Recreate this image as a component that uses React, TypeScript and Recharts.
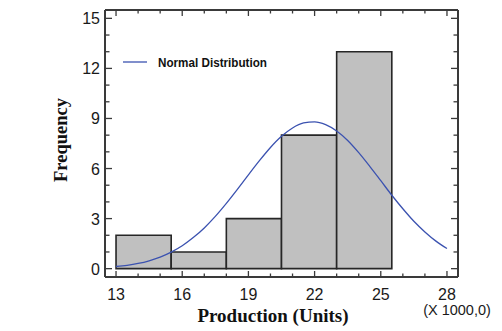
import React from "react";
import {
  ComposedChart,
  Line,
  XAxis,
  YAxis,
  ReferenceArea,
} from "recharts";

// Histogram bins (in thousands of units)
const binStarts = [13, 15.5, 18, 20.5, 23];
const binEnds = [15.5, 18, 20.5, 23, 25.5];
const binCounts = [2, 1, 3, 8, 13];

// Fitted normal curve
const curveX = [
  13, 13.5, 14, 14.5, 15, 15.5, 16, 16.5, 17, 17.5, 18, 18.5, 19, 19.5, 20,
  20.5, 21, 21.5, 22, 22.5, 23, 23.5, 24, 24.5, 25, 25.5, 26, 26.5, 27, 27.5,
  28,
];
const curveY = [
  0.13, 0.2, 0.31, 0.47, 0.69, 0.99, 1.37, 1.86, 2.44, 3.13, 3.91, 4.75, 5.62,
  6.47, 7.26, 7.93, 8.43, 8.73, 8.8, 8.63, 8.25, 7.68, 6.95, 6.13, 5.27, 4.4,
  3.59, 2.84, 2.2, 1.65, 1.21,
];

const xTicks = [13, 14, 15, 16, 17, 18, 19, 20, 21, 22, 23, 24, 25, 26, 27, 28];
const xLabels = [13, 16, 19, 22, 25, 28];
const yTicks = [0, 1, 2, 3, 4, 5, 6, 7, 8, 9, 10, 11, 12, 13, 14, 15];
const yLabels = [0, 3, 6, 9, 12, 15];

const data = curveX.map((x, i) => ({ x, y: curveY[i] }));

const FRAME = "#3a3a3a";
const TICK_FONT = "'Liberation Sans', Arial, sans-serif";
const SERIF = "'Liberation Serif', 'Times New Roman', serif";

const BottomTick = (props: any) => {
  const { x, y, payload } = props;
  const major = xLabels.includes(payload.value);
  return (
    <g>
      <line x1={x} x2={x} y1={y} y2={y - (major ? 6 : 3.5)} stroke={FRAME} strokeWidth={1.3} />
      {major && (
        <text x={x} y={y + 23} textAnchor="middle" fontSize={16} fontFamily={TICK_FONT} fill="#1a1a1a">
          {payload.value}
        </text>
      )}
    </g>
  );
};

const TopTick = (props: any) => {
  const { x, y, payload } = props;
  const major = xLabels.includes(payload.value);
  return <line x1={x} x2={x} y1={y} y2={y + (major ? 6 : 3.5)} stroke={FRAME} strokeWidth={1.3} />;
};

const LeftTick = (props: any) => {
  const { x, y, payload } = props;
  const major = yLabels.includes(payload.value);
  return (
    <g>
      <line x1={x} x2={x + (major ? 7 : 4.5)} y1={y} y2={y} stroke={FRAME} strokeWidth={1.3} />
      {major && (
        <text x={x - 5} y={y + 6} textAnchor="end" fontSize={16} fontFamily={TICK_FONT} fill="#1a1a1a">
          {payload.value}
        </text>
      )}
    </g>
  );
};

const RightTick = (props: any) => {
  const { x, y, payload } = props;
  const major = yLabels.includes(payload.value);
  return <line x1={x} x2={x - (major ? 7 : 4.5)} y1={y} y2={y} stroke={FRAME} strokeWidth={1.3} />;
};

const axisLine = { stroke: FRAME, strokeWidth: 2 };

export default function App() {
  return (
    <div style={{ position: "absolute", left: 0, top: 0, width: 502, height: 331, background: "#fff" }}>
      <ComposedChart
        width={502}
        height={331}
        data={data}
        margin={{ top: 9, right: 43, bottom: 24, left: 45 }}
      >
        <XAxis
          dataKey="x"
          type="number"
          domain={[12.5, 28.5]}
          ticks={xTicks}
          interval={0}
          height={30}
          tickSize={0}
          tickMargin={0}
          tickLine={false}
          axisLine={axisLine}
          tick={<BottomTick />}
          allowDataOverflow
        />
        <XAxis
          xAxisId="top"
          dataKey="x"
          orientation="top"
          type="number"
          domain={[12.5, 28.5]}
          ticks={xTicks}
          interval={0}
          height={1}
          tickSize={0}
          tickMargin={0}
          tickLine={false}
          axisLine={axisLine}
          tick={<TopTick />}
          allowDataOverflow
        />
        <YAxis
          type="number"
          domain={[-0.5, 15.5]}
          ticks={yTicks}
          interval={0}
          width={60}
          tickSize={0}
          tickMargin={0}
          tickLine={false}
          axisLine={axisLine}
          tick={<LeftTick />}
          allowDataOverflow
        />
        <YAxis
          yAxisId="right"
          orientation="right"
          type="number"
          domain={[-0.5, 15.5]}
          ticks={yTicks}
          interval={0}
          width={1}
          tickSize={0}
          tickMargin={0}
          tickLine={false}
          axisLine={axisLine}
          tick={<RightTick />}
          allowDataOverflow
        />
        {binCounts.map((c, i) => (
          <ReferenceArea
            key={i}
            x1={binStarts[i]}
            x2={binEnds[i]}
            y1={0}
            y2={c}
            fill="#c0c0c0"
            fillOpacity={1}
            stroke="#262626"
            strokeWidth={1.6}
            ifOverflow="visible"
          />
        ))}
        <Line
          xAxisId="top"
          yAxisId="right"
          type="monotone"
          dataKey="y"
          stroke="none"
          strokeOpacity={0}
          dot={false}
          activeDot={false}
          legendType="none"
          isAnimationActive={false}
        />
        <Line
          type="monotone"
          dataKey="y"
          stroke="#3b52b0"
          strokeWidth={1.3}
          dot={false}
          activeDot={false}
          isAnimationActive={false}
        />
      </ComposedChart>
      <svg
        width={502}
        height={331}
        style={{ position: "absolute", left: 0, top: 0, pointerEvents: "none" }}
      >
        <line x1={123} x2={147} y1={62} y2={62} stroke="#3b52b0" strokeWidth={1.3} />
        <text
          x={158}
          y={66.5}
          fontSize={12.5}
          fontWeight="bold"
          fontFamily={TICK_FONT}
          fill="#111"
          textLength={109}
          lengthAdjust="spacingAndGlyphs"
        >
          Normal Distribution
        </text>
        <text x={273} y={322} textAnchor="middle" fontSize={19} fontWeight="bold" fontFamily={SERIF} fill="#111">
          Production (Units)
        </text>
        <text
          x={67}
          y={140}
          textAnchor="middle"
          fontSize={18.5}
          fontWeight="bold"
          fontFamily={SERIF}
          fill="#111"
          transform="rotate(-90 67 140)"
        >
          Frequency
        </text>
        <text x={457} y={315} textAnchor="middle" fontSize={14.5} fontFamily={TICK_FONT} fill="#1a1a1a">
          (X 1000,0)
        </text>
      </svg>
    </div>
  );
}
